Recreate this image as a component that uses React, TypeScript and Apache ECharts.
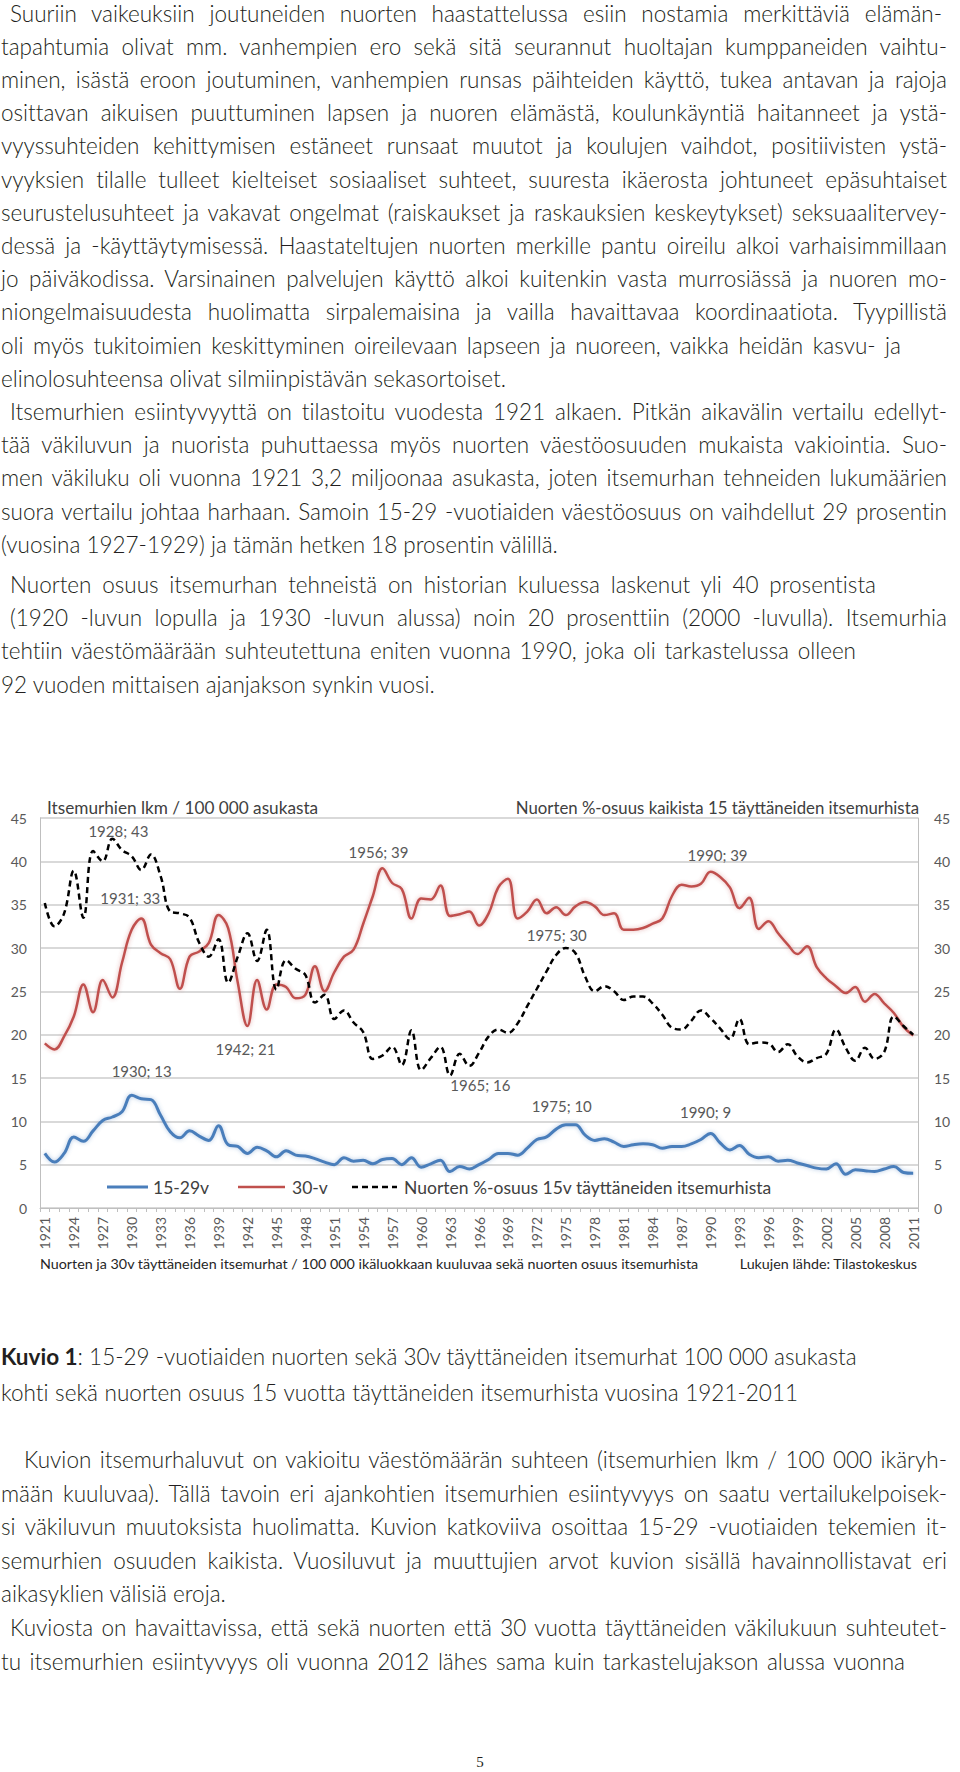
import React, { useEffect, useRef } from "react";
import * as echarts from "echarts";

// ---------- chart data ----------
const years: string[] = [];
for (let y = 1921; y <= 2011; y++) years.push(String(y));

const young15to29 = [
  6.3, 5.3, 6.3, 8.2, 7.7, 8.9, 10.1, 10.5, 11.1, 13.0, // 1921-1930
  12.6, 12.5, 10.7, 8.8, 8.1, 8.9, 8.3, 7.8, 9.5, 7.3, // 1931-1940
  7.1, 6.3, 7.0, 6.6, 5.9, 6.6, 6.1, 6.0, 5.7, 5.3, // 1941-1950
  5.0, 5.8, 5.4, 5.5, 5.1, 5.6, 5.7, 5.0, 5.8, 4.7, // 1951-1960
  5.1, 5.5, 4.2, 4.8, 4.5, 5.0, 5.6, 6.3, 6.3, 6.1, // 1961-1970
  6.9, 7.9, 8.2, 9.1, 9.6, 9.6, 8.4, 7.8, 8.0, 7.6, // 1971-1980
  7.1, 7.3, 7.4, 7.3, 6.9, 7.1, 7.1, 7.4, 7.9, 8.6, // 1981-1990
  7.5, 6.7, 7.2, 6.2, 5.8, 5.9, 5.4, 5.5, 5.2, 4.9, // 1991-2000
  4.6, 4.5, 5.1, 3.9, 4.4, 4.3, 4.2, 4.5, 4.8, 4.1, // 2001-2010
  4.0, // 2011
];

const adult30 = [
  19.0, 18.3, 19.8, 22.1, 25.8, 22.6, 26.3, 24.3, 28.3, 32.1, // 1921-1930
  33.4, 30.4, 29.4, 28.7, 25.3, 29.0, 29.6, 30.6, 33.8, 32.3, // 1931-1940
  26.0, 21.0, 26.3, 22.9, 25.8, 25.5, 24.2, 24.6, 27.9, 25.0, // 1941-1950
  27.2, 29.0, 29.8, 32.8, 36.0, 39.2, 37.5, 36.8, 33.4, 35.7, // 1951-1960
  35.6, 37.2, 33.7, 33.9, 34.2, 32.6, 34.0, 37.0, 38.0, 33.4, // 1961-1970
  34.2, 35.6, 34.0, 34.7, 33.8, 34.8, 35.3, 34.8, 33.8, 34.0, // 1971-1980
  32.1, 32.1, 32.3, 32.8, 33.4, 36.0, 37.3, 37.1, 37.4, 38.8, // 1981-1990
  38.2, 37.0, 34.6, 35.8, 32.2, 33.1, 31.7, 30.4, 29.3, 30.2, // 1991-2000
  27.8, 26.5, 25.6, 24.8, 25.5, 23.8, 24.7, 23.6, 22.5, 20.9, // 2001-2010
  19.9, // 2011
];

const youthShare = [
  35.2, 32.5, 34.0, 38.9, 33.5, 41.2, 40.0, 42.6, 41.3, 40.6, // 1921-1930
  39.0, 40.8, 38.3, 34.2, 34.0, 33.5, 30.6, 29.0, 31.0, 26.0, // 1931-1940
  29.0, 31.7, 28.5, 32.1, 25.2, 28.6, 27.6, 26.9, 23.7, 24.6, // 1941-1950
  21.8, 22.8, 21.4, 20.3, 17.2, 17.6, 18.6, 16.5, 20.5, 15.9, // 1951-1960
  17.3, 18.6, 15.3, 17.8, 16.4, 17.9, 19.8, 20.6, 20.2, 21.3, // 1961-1970
  23.3, 25.3, 27.3, 29.2, 30.0, 29.4, 26.7, 25.0, 25.6, 25.0, // 1971-1980
  24.0, 24.4, 24.4, 23.6, 22.3, 20.8, 20.6, 21.6, 22.8, 21.9, // 1981-1990
  20.7, 19.5, 21.8, 18.9, 19.1, 19.0, 18.0, 18.9, 17.5, 16.8, // 1991-2000
  17.3, 17.8, 20.6, 18.5, 17.0, 18.5, 17.2, 18.0, 22.1, 21.0, // 2001-2010
  20.0, // 2011
];

const seriesNames = ["15-29v", "30-v", "Nuorten %-osuus 15v täyttäneiden itsemurhista"];
const seriesColors = ["#4a7ebb", "#c0504d", "#000000"];
const yMin = 0;
const yMax = 45;
const yStep = 5;

// annotated points: year + label text
const youngNotes = [
  { year: "1930", text: "1930; 13" },
  { year: "1975", text: "1975; 10" },
  { year: "1990", text: "1990; 9" },
];
const adultNotes = [
  { year: "1931", text: "1931; 33" },
  { year: "1942", text: "1942; 21" },
  { year: "1956", text: "1956; 39" },
  { year: "1990", text: "1990; 39" },
];
const shareNotes = [
  { year: "1928", text: "1928; 43" },
  { year: "1965", text: "1965; 16" },
  { year: "1975", text: "1975; 30" },
];

// ---------- page text ----------
const bodyLines = [
  { t: "Suuriin vaikeuksiin joutuneiden nuorten haastattelussa esiin nostamia merkittäviä elämän-", ind: true, end: 942 },
  { t: "tapahtumia olivat mm. vanhempien ero sekä sitä seurannut huoltajan kumppaneiden vaihtu-" },
  { t: "minen, isästä eroon joutuminen, vanhempien runsas päihteiden käyttö, tukea antavan ja rajoja" },
  { t: "osittavan aikuisen puuttuminen lapsen ja nuoren elämästä, koulunkäyntiä haitanneet ja ystä-" },
  { t: "vyyssuhteiden kehittymisen estäneet runsaat muutot ja koulujen vaihdot, positiivisten ystä-" },
  { t: "vyyksien tilalle tulleet kielteiset sosiaaliset suhteet, suuresta ikäerosta johtuneet epäsuhtaiset" },
  { t: "seurustelusuhteet ja vakavat ongelmat (raiskaukset ja raskauksien keskeytykset) seksuaalitervey-" },
  { t: "dessä ja -käyttäytymisessä. Haastateltujen nuorten merkille pantu oireilu alkoi varhaisimmillaan" },
  { t: "jo päiväkodissa. Varsinainen palvelujen käyttö alkoi kuitenkin vasta murrosiässä ja nuoren mo-" },
  { t: "niongelmaisuudesta huolimatta sirpalemaisina ja vailla havaittavaa koordinaatiota. Tyypillistä" },
  { t: "oli myös tukitoimien keskittyminen oireilevaan lapseen ja nuoreen, vaikka heidän kasvu- ja", end: 901 },
  { t: "elinolosuhteensa olivat silmiinpistävän sekasortoiset.", last: true },
  { t: "Itsemurhien esiintyvyyttä on tilastoitu vuodesta 1921 alkaen. Pitkän aikavälin vertailu edellyt-", ind: true },
  { t: "tää väkiluvun ja nuorista puhuttaessa myös nuorten väestöosuuden mukaista vakiointia. Suo-" },
  { t: "men väkiluku oli vuonna 1921 3,2 miljoonaa asukasta, joten itsemurhan tehneiden lukumäärien" },
  { t: "suora vertailu johtaa harhaan. Samoin 15-29 -vuotiaiden väestöosuus on vaihdellut 29 prosentin" },
  { t: "(vuosina 1927-1929) ja tämän hetken 18 prosentin välillä.", last: true },
  { t: "Nuorten osuus itsemurhan tehneistä on historian kuluessa laskenut yli 40 prosentista", ind: true, end: 876, gap: 7 },
  { t: "(1920 -luvun lopulla ja 1930 -luvun alussa) noin 20 prosenttiin (2000 -luvulla). Itsemurhia", ind: true },
  { t: "tehtiin väestömäärään suhteutettuna eniten vuonna 1990, joka oli tarkastelussa olleen", end: 856 },
  { t: "92 vuoden mittaisen ajanjakson synkin vuosi.", last: true },
];

const lowerLines = [
  { t: "Kuvion itsemurhaluvut on vakioitu väestömäärän suhteen (itsemurhien lkm / 100 000 ikäryh-", ind: true, wide: true },
  { t: "mään kuuluvaa). Tällä tavoin eri ajankohtien itsemurhien esiintyvyys on saatu vertailukelpoisek-" },
  { t: "si väkiluvun muutoksista huolimatta. Kuvion katkoviiva osoittaa 15-29 -vuotiaiden tekemien it-" },
  { t: "semurhien osuuden kaikista. Vuosiluvut ja muuttujien arvot kuvion sisällä havainnollistavat eri" },
  { t: "aikasyklien välisiä eroja.", last: true },
  { t: "Kuviosta on havaittavissa, että sekä nuorten että 30 vuotta täyttäneiden väkilukuun suhteutet-", ind: true },
  { t: "tu itsemurhien esiintyvyys oli vuonna 2012 lähes sama kuin tarkastelujakson alussa vuonna", end: 905 },
];

const BODY_FONT = 'Lato, "Open Sans", sans-serif';
const BODY_SIZE = 22.5;
const CHART_FONT = 'Lato, "Open Sans", sans-serif';
const LEFT = 1;
const INDENT = 10;
const WIDE_INDENT = 24;
const RIGHT = 947;

function TextLine(props: { t: any; y: number; ind?: boolean; wide?: boolean; end?: number; last?: boolean }) {
  const left = props.wide ? WIDE_INDENT : props.ind ? INDENT : LEFT;
  const right = props.end ?? RIGHT;
  const justify = !props.last;
  return (
    <div
      style={{
        position: "absolute",
        left,
        top: props.y - 17,
        width: right - left,
        height: 34,
        lineHeight: "34px",
        fontSize: BODY_SIZE,
        fontFamily: BODY_FONT,
        fontWeight: 300,
        fontVariantLigatures: "none",
        fontFeatureSettings: '"liga" 0, "clig" 0',
        color: "#231f20",
        whiteSpace: "nowrap",
        textAlign: justify ? "justify" : "left",
        textAlignLast: justify ? "justify" : "left",
      } as any}
    >
      {props.t}
    </div>
  );
}

function noteMarks(list: { year: string; text: string }[], values: number[], offsets: number[][]) {
  return {
    symbol: "circle",
    symbolSize: 1,
    silent: true,
    itemStyle: { color: "rgba(0,0,0,0)" },
    label: {
      show: true,
      position: "inside",
      color: "#595959",
      fontSize: 15,
      fontFamily: CHART_FONT,
    },
    data: list.map((n, i) => ({
      coord: [n.year, values[years.indexOf(n.year)]],
      label: { formatter: n.text, offset: offsets[i] },
    })),
  };
}

function legendGraphic() {
  // hand-drawn legend: line sample + name
  const items = [
    { x1: 107, x2: 148, tx: 153, width: 3, dash: null as any },
    { x1: 238, x2: 285, tx: 292, width: 2.5, dash: null as any },
    { x1: 352, x2: 397, tx: 404, width: 2.5, dash: [6, 4] },
  ];
  const out: any[] = [];
  items.forEach((it, i) => {
    out.push({
      type: "line",
      shape: { x1: it.x1, y1: 407, x2: it.x2, y2: 407 },
      style: { stroke: seriesColors[i], lineWidth: it.width, lineDash: it.dash },
      silent: true,
    });
    out.push({
      type: "text",
      x: it.tx,
      y: 407,
      style: {
        text: seriesNames[i],
        align: "left",
        verticalAlign: "middle",
        fontSize: 17.5,
        fontFamily: CHART_FONT,
        fill: "#404040",
      },
    });
  });
  return out;
}

function Chart() {
  const ref = useRef<HTMLDivElement>(null);
  useEffect(() => {
    const chart = echarts.init(ref.current!, null, { renderer: "svg" });
    const axisLabelStyle = { color: "#595959", fontSize: 14, fontFamily: CHART_FONT };
    const option: any = {
      animation: false,
      backgroundColor: "#ffffff",
      grid: { left: 40, right: 42, top: 38, bottom: 82, containLabel: false },
      legend: { show: false, data: seriesNames },
      xAxis: {
        type: "category",
        data: years,
        boundaryGap: true,
        axisLine: { show: true, lineStyle: { color: "#bfbfbf", width: 1 } },
        axisTick: { show: true, interval: 0, length: 4, lineStyle: { color: "#bfbfbf" } },
        axisLabel: { ...axisLabelStyle, interval: 2, rotate: 90, margin: 9 },
        splitLine: { show: false },
      },
      yAxis: [
        {
          type: "value",
          min: yMin,
          max: yMax,
          interval: yStep,
          position: "left",
          axisLine: { show: true, lineStyle: { color: "#bfbfbf" } },
          axisTick: { show: false },
          axisLabel: { ...axisLabelStyle, margin: 13 },
          splitLine: { show: true, lineStyle: { color: "#d9d9d9", width: 2 } },
        },
        {
          type: "value",
          min: yMin,
          max: yMax,
          interval: yStep,
          position: "right",
          axisLine: { show: true, lineStyle: { color: "#bfbfbf" } },
          axisTick: { show: false },
          axisLabel: { ...axisLabelStyle, margin: 16 },
          splitLine: { show: false },
        },
      ],
      series: [
        {
          name: seriesNames[0],
          type: "line",
          data: young15to29,
          yAxisIndex: 0,
          smooth: 0.4,
          symbol: "none",
          color: seriesColors[0],
          lineStyle: { width: 3, color: seriesColors[0], shadowColor: "rgba(79,129,189,0.45)", shadowBlur: 4 },
          markPoint: noteMarks(youngNotes, young15to29, [[10, -24], [-4, -19], [-5, -21]]),
          z: 2,
        },
        {
          name: seriesNames[1],
          type: "line",
          data: adult30,
          yAxisIndex: 0,
          smooth: 0.4,
          symbol: "none",
          color: seriesColors[1],
          lineStyle: { width: 2.5, color: seriesColors[1], shadowColor: "rgba(192,80,77,0.45)", shadowBlur: 4 },
          markPoint: noteMarks(adultNotes, adult30, [[-11, -21], [-2, 23], [-4, -16], [7, -17]]),
          z: 3,
        },
        {
          name: seriesNames[2],
          type: "line",
          data: youthShare,
          yAxisIndex: 1,
          smooth: 0.4,
          symbol: "none",
          color: seriesColors[2],
          lineStyle: { width: 2.5, color: seriesColors[2], type: [6, 4] },
          markPoint: noteMarks(shareNotes, youthShare, [[6, -8], [11, 19], [-9, -13]]),
          z: 4,
        },
      ],
      graphic: [
        {
          type: "text",
          x: 47,
          y: 27,
          style: {
            text: "Itsemurhien lkm / 100 000 asukasta",
            align: "left",
            verticalAlign: "middle",
            fontSize: 17.2,
            fontFamily: CHART_FONT,
            fill: "#404040",
          },
        },
        {
          type: "text",
          x: 919,
          y: 27,
          style: {
            text: "Nuorten %-osuus kaikista 15 täyttäneiden itsemurhista",
            align: "right",
            verticalAlign: "middle",
            fontSize: 16.8,
            fontFamily: CHART_FONT,
            fill: "#404040",
          },
        },
        {
          type: "text",
          x: 40,
          y: 483,
          style: {
            text: "Nuorten ja 30v täyttäneiden itsemurhat / 100 000 ikäluokkaan kuuluvaa sekä nuorten osuus itsemurhista",
            align: "left",
            verticalAlign: "middle",
            fontSize: 14.3,
            fontFamily: CHART_FONT,
            fill: "#262626",
          },
        },
        {
          type: "text",
          x: 917,
          y: 483,
          style: {
            text: "Lukujen lähde: Tilastokeskus",
            align: "right",
            verticalAlign: "middle",
            fontSize: 14.3,
            fontFamily: CHART_FONT,
            fill: "#262626",
          },
        },
        ...legendGraphic(),
      ],
    };
    chart.setOption(option);
    return () => chart.dispose();
  }, []);
  return <div ref={ref} style={{ position: "absolute", left: 0, top: 780, width: 960, height: 510 }} />;
}

export default function App() {
  let y = 13.6;
  const top: any[] = [];
  bodyLines.forEach((l: any, i) => {
    if (i > 0) y += 33.2 + (l.gap || 0);
    top.push(<TextLine key={"b" + i} t={l.t} y={y} ind={l.ind} end={l.end} last={l.last} />);
  });
  let y2 = 1460;
  const bottom: any[] = [];
  lowerLines.forEach((l: any, i) => {
    if (i > 0) y2 += 33.6;
    bottom.push(<TextLine key={"l" + i} t={l.t} y={y2} ind={l.ind} wide={l.wide} end={l.end} last={l.last} />);
  });
  return (
    <div style={{ position: "absolute", left: 0, top: 0, width: 960, height: 1772, background: "#ffffff", overflow: "hidden" }}>
      {top}
      <Chart />
      <TextLine
        y={1357}
        end={856}
        t={
          <>
            <span style={{ fontWeight: "bold" }}>Kuvio 1</span>: 15-29 -vuotiaiden nuorten sekä 30v täyttäneiden itsemurhat 100 000 asukasta
          </>
        }
      />
      <TextLine y={1393} end={798} t="kohti sekä nuorten osuus 15 vuotta täyttäneiden itsemurhista vuosina 1921-2011" />
      {bottom}
      <div
        style={{
          position: "absolute",
          left: 460,
          width: 40,
          top: 1752,
          height: 20,
          lineHeight: "20px",
          textAlign: "center",
          fontFamily: '"Liberation Serif", "DejaVu Serif", serif',
          fontSize: 15,
          color: "#231f20",
        }}
      >
        5
      </div>
    </div>
  );
}
